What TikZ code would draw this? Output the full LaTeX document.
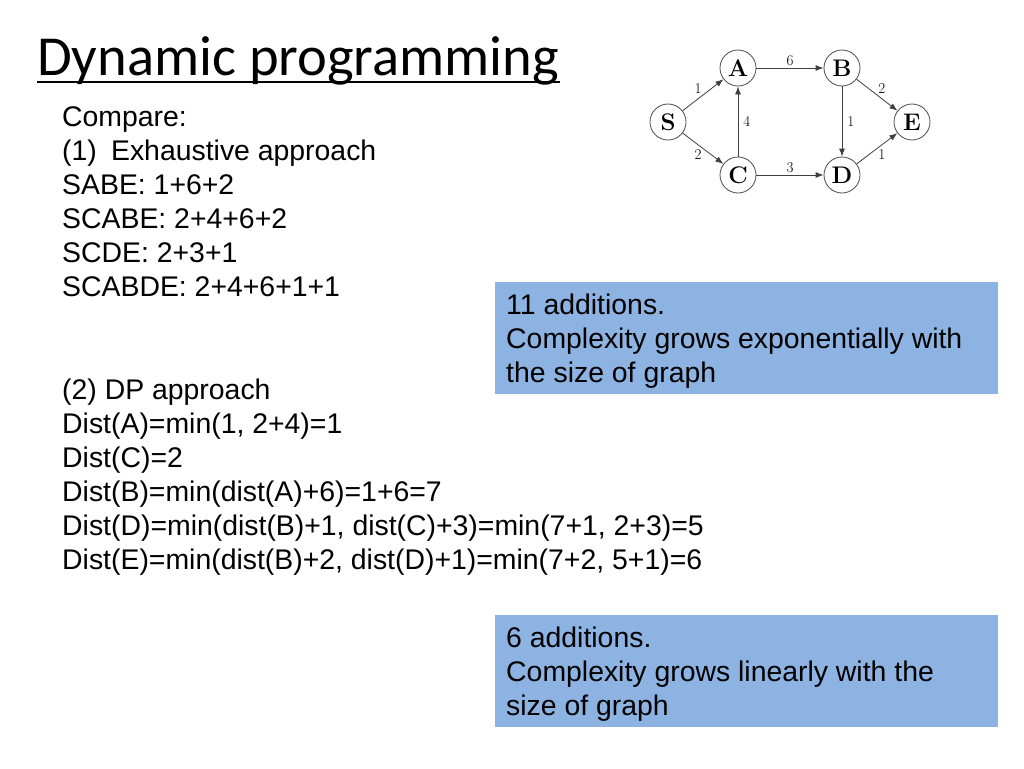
\documentclass[tikz,border=0pt]{standalone}
\usepackage{fontspec}
\setmainfont{Liberation Sans}
\newfontfamily\titlefont{Carlito}
\newfontfamily\graphfont{Latin Modern Roman}
\usetikzlibrary{arrows.meta}
\definecolor{boxblue}{HTML}{8DB3E2}
\tikzset{
  txt/.style={anchor=base west,inner sep=0pt,font=\fontsize{28.4}{32}\selectfont},
  vtx/.style={circle,draw=black!70,line width=0.8pt,minimum size=36pt,inner sep=0pt,font=\graphfont\fontsize{24}{25}\selectfont\bfseries},
  edge/.style={-{Latex[length=8pt,width=6pt]},line width=0.8pt,draw=black!75},
  wt/.style={font=\graphfont\fontsize{15}{16}\selectfont,inner sep=2pt},
  bluebox/.style={fill=boxblue,draw=none}
}
\begin{document}
\begin{tikzpicture}[x=1pt,y=-1pt]
\useasboundingbox (0,0) rectangle (1024,768);
\fill[white] (0,0) rectangle (1024,768);
\node[anchor=base west,inner sep=0pt,font=\titlefont\fontsize{56.5}{60}\selectfont] (title) at (37,75) {Dynamic programming};
\draw[line width=1.5pt] (37,82) -- (560,82);
\node[txt] (l1) at (62,126) {Compare:};
\node[txt] (l2) at (62,160) {(1)\hspace{0.5em}Exhaustive approach};
\node[txt] (l3) at (62,194) {SABE: 1+6+2};
\node[txt] (l4) at (62,228) {SCABE: 2+4+6+2};
\node[txt] (l5) at (62,262) {SCDE: 2+3+1};
\node[txt] (l6) at (62,296) {SCABDE: 2+4+6+1+1};
\node[txt] (l7) at (62,399) {(2) DP approach};
\node[txt] (l8) at (62,433) {Dist(A)=min(1, 2+4)=1};
\node[txt] (l9) at (62,467) {Dist(C)=2};
\node[txt] (l10) at (62,501) {Dist(B)=min(dist(A)+6)=1+6=7};
\node[txt] (l11) at (62,535) {Dist(D)=min(dist(B)+1, dist(C)+3)=min(7+1, 2+3)=5};
\node[txt] (l12) at (62,569) {Dist(E)=min(dist(B)+2, dist(D)+1)=min(7+2, 5+1)=6};
\fill[bluebox] (495,282) rectangle (998,394);
\node[txt] (b1) at (506,314) {11 additions.};
\node[txt] (b2) at (506,348) {Complexity grows exponentially with};
\node[txt] (b3) at (506,382) {the size of graph};
\fill[bluebox] (495,615) rectangle (998,727);
\node[txt] (c1) at (506,647) {6 additions.};
\node[txt] (c2) at (506,681) {Complexity grows linearly with the};
\node[txt] (c3) at (506,715) {size of graph};
\node[vtx] (S) at (668,122) {S};
\node[vtx] (A) at (738,68) {A};
\node[vtx] (B) at (842,68) {B};
\node[vtx] (E) at (912,122) {E};
\node[vtx] (C) at (738,175) {C};
\node[vtx] (D) at (842,175) {D};
\draw[edge] (S) -- node[wt,above left=-1pt] {1} (A);
\draw[edge] (S) -- node[wt,below left=-1pt] {2} (C);
\draw[edge] (C) -- node[wt,right=3pt] {4} (A);
\draw[edge] (A) -- node[wt,above] {6} (B);
\draw[edge] (C) -- node[wt,above] {3} (D);
\draw[edge] (B) -- node[wt,right=3pt] {1} (D);
\draw[edge] (B) -- node[wt,above right=-1pt] {2} (E);
\draw[edge] (D) -- node[wt,below right=-1pt] {1} (E);
\end{tikzpicture}
\end{document}
